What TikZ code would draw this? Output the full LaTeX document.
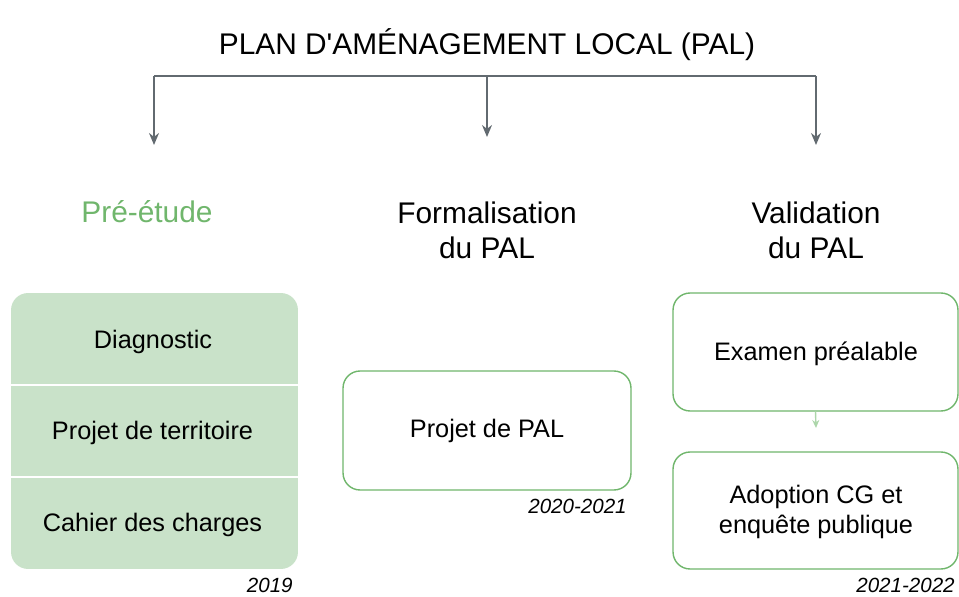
\documentclass[tikz,border=0pt]{standalone}
\usepackage{fontspec}
\setmainfont{Liberation Sans}
\usetikzlibrary{arrows.meta}

\definecolor{palgreen}{RGB}{112,182,108}
\definecolor{palfill}{RGB}{201,226,201}
\definecolor{palgrey}{RGB}{98,106,112}
\definecolor{palpale}{RGB}{172,214,170}

\begin{document}
\begin{tikzpicture}[
    x=0.02cm, y=-0.02cm,
    bigfont/.style={font=\fontsize{17}{20}\selectfont},
    txtfont/.style={font=\fontsize{14.4}{17}\selectfont},
    yearfont/.style={font=\fontsize{11.7}{14}\selectfont\itshape, anchor=east, inner sep=0},
    stagebox/.style={rectangle, rounded corners=0.34cm, draw=palgreen, line width=0.8pt, fill=white, inner sep=0},
    branch/.style={draw=palgrey, line width=0.85pt, -{Stealth[length=0.24cm, width=0.2cm]}}
]
\useasboundingbox (0,0) rectangle (959,597);

% ============================================
% TITRE ET ARBORESCENCE
% ============================================
\node[bigfont] (title) at (487,45) {PLAN D\textquotesingle AMÉNAGEMENT LOCAL (PAL)};

\coordinate (busl) at (154,76);
\coordinate (busc) at (487,76);
\coordinate (busr) at (816,76);
\coordinate (tipl) at (154,145);
\coordinate (tipc) at (487,137);
\coordinate (tipr) at (816,145);

\draw[palgrey, line width=0.85pt] (busl) -- (busr);
\draw[branch] (busl) -- (tipl);
\draw[branch] (busc) -- (tipc);
\draw[branch] (busr) -- (tipr);

% ============================================
% ETAPES
% ============================================
\node[bigfont, text=palgreen] (prestudy) at (147,212) {Pré-étude};
\node[bigfont, align=center] (formal) at (487,230) {Formalisation\\du PAL};
\node[bigfont, align=center] (valid) at (816,230) {Validation\\du PAL};

% ============================================
% PRE-ETUDE (bloc plein, trois cases)
% ============================================
\node[stagebox, draw=none, fill=palfill, minimum width=5.74cm, minimum height=5.52cm] (preblock) at (154.5,431) {};
\draw[white, line width=1pt] (11,385) -- (298,385);
\draw[white, line width=1pt] (11,477) -- (298,477);
\node[txtfont] (diag) at (153,342) {Diagnostic};
\node[txtfont] (terr) at (152.5,433) {Projet de territoire};
\node[txtfont] (cdc) at (152.5,525) {Cahier des charges};
\node[yearfont] (y2019) at (293,585) {2019};

% ============================================
% FORMALISATION
% ============================================
\node[stagebox, minimum width=5.76cm, minimum height=2.38cm] (palbox) at (487,430.5) {};
\node[txtfont] (projpal) at (487,431) {Projet de PAL};
\node[yearfont] (y2020) at (627,506) {2020-2021};

% ============================================
% VALIDATION
% ============================================
\node[stagebox, minimum width=5.7cm, minimum height=2.36cm] (exambox) at (815.5,352) {};
\node[txtfont] (exam) at (816,354) {Examen préalable};

\node[stagebox, minimum width=5.7cm, minimum height=2.34cm] (adoptbox) at (815.5,510.5) {};
\node[txtfont, align=center] (adopt) at (816,512) {Adoption CG et\\enquête publique};

\coordinate (smalltip) at (816,428);
\draw[draw=palpale, line width=0.8pt, -{Stealth[length=0.16cm, width=0.14cm]}] (exambox.south) -- (smalltip);

\node[yearfont] (y2021) at (955,585) {2021-2022};

\end{tikzpicture}
\end{document}
